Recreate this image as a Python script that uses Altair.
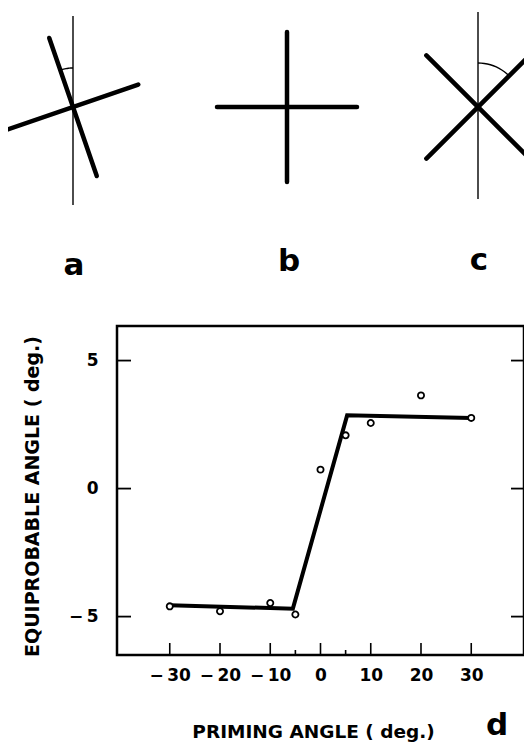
import altair as alt
import numpy as np
import pandas as pd

# ---------------- data (panel d) ----------------
priming_angle = [-30, -20, -10, -5, 0, 5, 10, 20, 30]
equiprobable_angle = [-4.60, -4.79, -4.47, -4.92, 0.74, 2.08, 2.56, 3.64, 2.76]
fit_x = [-30, -5.5, 5.3, 30]
fit_y = [-4.56, -4.69, 2.86, 2.76]
x_major_ticks = [-30, -20, -10, 0, 10, 20, 30]
x_minor_ticks = [-5, 5]
y_ticks = [-5, 0, 5]

# ---------------- diagrams a, b, c ----------------
diagram_labels = ["a", "b", "c"]
diagram_cx = [73, 287, 478]
diagram_cy = [107, 107, 107]
cross_rotation = [19, 0, 45]      # degrees, counter-clockwise
arm_h = [69, 70, 73]              # half-length of the (rotated) horizontal bar
arm_v = [73, 75, 73]              # half-length of the (rotated) vertical bar
ref_top = [16, None, 12]          # thin vertical reference line
ref_bottom = [205, None, 199]
arc_radius = [39, None, 44]
arc_end = [-19, None, 45]
label_x = [74, 289, 479]
label_y = [266, 262, 261]
panel_d_label = ["d"]

W, H = 407, 329
FONT = "DejaVu Sans"

# build segment tables
thick = []
thin = []
arcs = []
for i in range(3):
    cx, cy, r = diagram_cx[i], diagram_cy[i], np.radians(cross_rotation[i])
    ux, uy = np.cos(r), -np.sin(r)
    wx, wy = -np.sin(r), -np.cos(r)
    thick.append(dict(x1=cx - arm_h[i] * ux, y1=cy - arm_h[i] * uy,
                      x2=cx + arm_h[i] * ux, y2=cy + arm_h[i] * uy))
    thick.append(dict(x1=cx - arm_v[i] * wx, y1=cy - arm_v[i] * wy,
                      x2=cx + arm_v[i] * wx, y2=cy + arm_v[i] * wy))
    if ref_top[i] is not None:
        thin.append(dict(x1=cx, y1=ref_top[i], x2=cx, y2=ref_bottom[i]))
    if arc_radius[i] is not None:
        for k, phi in enumerate(np.linspace(0, np.radians(arc_end[i]), 12)):
            arcs.append(dict(g=diagram_labels[i], k=k,
                             x=cx + arc_radius[i] * np.sin(phi),
                             y=cy - arc_radius[i] * np.cos(phi)))

thick_df = pd.DataFrame(thick)
thin_df = pd.DataFrame(thin)
arc_df = pd.DataFrame(arcs)
lab_df = pd.DataFrame(dict(t=diagram_labels, x=label_x, y=label_y))
d_df = pd.DataFrame(dict(t=panel_d_label, x=[497], y=[735]))

# diagram coordinate frame (page pixels)
dx_scale = alt.Scale(domain=[117, 117 + W], nice=False, zero=False)
dy_scale = alt.Scale(domain=[326, 326 + H], nice=False, zero=False, reverse=True)

thick_layer = alt.Chart(thick_df).mark_rule(color="black", strokeWidth=4.5, strokeCap="round").encode(
    x=alt.X("x1:Q", scale=dx_scale, axis=None), y=alt.Y("y1:Q", scale=dy_scale, axis=None),
    x2="x2:Q", y2="y2:Q")
thin_layer = alt.Chart(thin_df).mark_rule(color="black", strokeWidth=1.4).encode(
    x=alt.X("x1:Q", scale=dx_scale, axis=None), y=alt.Y("y1:Q", scale=dy_scale, axis=None),
    x2="x2:Q", y2="y2:Q")
arc_layer = alt.Chart(arc_df).mark_line(color="black", strokeWidth=1.4).encode(
    x=alt.X("x:Q", scale=dx_scale, axis=None), y=alt.Y("y:Q", scale=dy_scale, axis=None),
    detail="g:N", order="k:Q")
lab_layer = alt.Chart(lab_df).mark_text(font=FONT, fontSize=31, fontWeight="bold", baseline="middle",
                                        align="center", color="black").encode(
    x=alt.X("x:Q", scale=dx_scale, axis=None), y=alt.Y("y:Q", scale=dy_scale, axis=None), text="t:N")
d_layer = alt.Chart(d_df).mark_text(font=FONT, fontSize=31, fontWeight="bold", baseline="alphabetic",
                                    align="center", color="black").encode(
    x=alt.X("x:Q", scale=dx_scale, axis=None), y=alt.Y("y:Q", scale=dy_scale, axis=None), text="t:N")

diagrams = alt.layer(thick_layer, thin_layer, arc_layer, lab_layer, d_layer)

# ---------------- panel d ----------------
xs = alt.Scale(domain=[-40.5, 40.5], nice=False, zero=False)
ys = alt.Scale(domain=[-6.5, 6.35], nice=False, zero=False)
XT = "PRIMING ANGLE  ( deg.)"
YT = "EQUIPROBABLE ANGLE  ( deg.)"
neg = "datum.value < 0 ? '\u2212\u2009' + abs(datum.value) : datum.label"

x_axis = alt.Axis(values=x_major_ticks, ticks=False, domain=False, grid=False, labelPadding=12,
                  labelFont=FONT, labelFontSize=17, labelFontWeight="bold", labelColor="black",
                  labelOverlap=False, labelExpr=neg, title=XT, titleFont=FONT, titleFontSize=18.5,
                  titleFontWeight="bold", titleColor="black", titleX=196, titleY=82,
                  titleBaseline="alphabetic")
y_axis = alt.Axis(values=y_ticks, ticks=False, domain=False, grid=False, labelPadding=19,
                  labelFont=FONT, labelFontSize=17, labelFontWeight="bold", labelColor="black",
                  labelExpr=neg, title=YT, titleFont=FONT, titleFontSize=19, titleFontWeight="bold",
                  titleColor="black", titleX=-79, titleY=170, titleBaseline="alphabetic", titleAngle=270)

fit_df = pd.DataFrame(dict(x=fit_x, y=fit_y))
pts_df = pd.DataFrame(dict(x=priming_angle, y=equiprobable_angle))

fit_layer = alt.Chart(fit_df).mark_line(color="black", strokeWidth=4, strokeJoin="miter").encode(
    x=alt.X("x:Q", scale=xs, axis=x_axis), y=alt.Y("y:Q", scale=ys, axis=y_axis))
pt_layer = alt.Chart(pts_df).mark_point(shape="circle", filled=True, fill="white", stroke="black",
                                        strokeWidth=1.8, size=38, opacity=1).encode(
    x=alt.X("x:Q", scale=xs, axis=x_axis), y=alt.Y("y:Q", scale=ys, axis=y_axis))
xmaj = alt.Chart(pd.DataFrame(dict(x=x_major_ticks))).mark_rule(color="black", strokeWidth=1.6).encode(
    x=alt.X("x:Q", scale=xs, axis=x_axis), y=alt.value(H), y2=alt.value(H - 12))
xmin = alt.Chart(pd.DataFrame(dict(x=x_minor_ticks))).mark_rule(color="black", strokeWidth=1.6).encode(
    x=alt.X("x:Q", scale=xs, axis=x_axis), y=alt.value(H), y2=alt.value(H - 5))
yl = alt.Chart(pd.DataFrame(dict(y=y_ticks))).mark_rule(color="black", strokeWidth=1.8).encode(
    y=alt.Y("y:Q", scale=ys, axis=y_axis), x=alt.value(0), x2=alt.value(14))
yr = alt.Chart(pd.DataFrame(dict(y=y_ticks))).mark_rule(color="black", strokeWidth=1.8).encode(
    y=alt.Y("y:Q", scale=ys, axis=y_axis), x=alt.value(W), x2=alt.value(W - 13))

panel = alt.layer(xmaj, xmin, yl, yr, fit_layer, pt_layer)

chart = alt.layer(panel, diagrams).resolve_scale(x="independent", y="independent").properties(
    width=W, height=H,
    padding={"left": 109, "top": 318, "right": 0, "bottom": 87},
    autosize=alt.AutoSizeParams(type="none"),
    background="white",
).configure_view(stroke="black", strokeWidth=2.5, fill=None)

chart.save("out.html", embed_options={"renderer": "svg", "actions": False})
